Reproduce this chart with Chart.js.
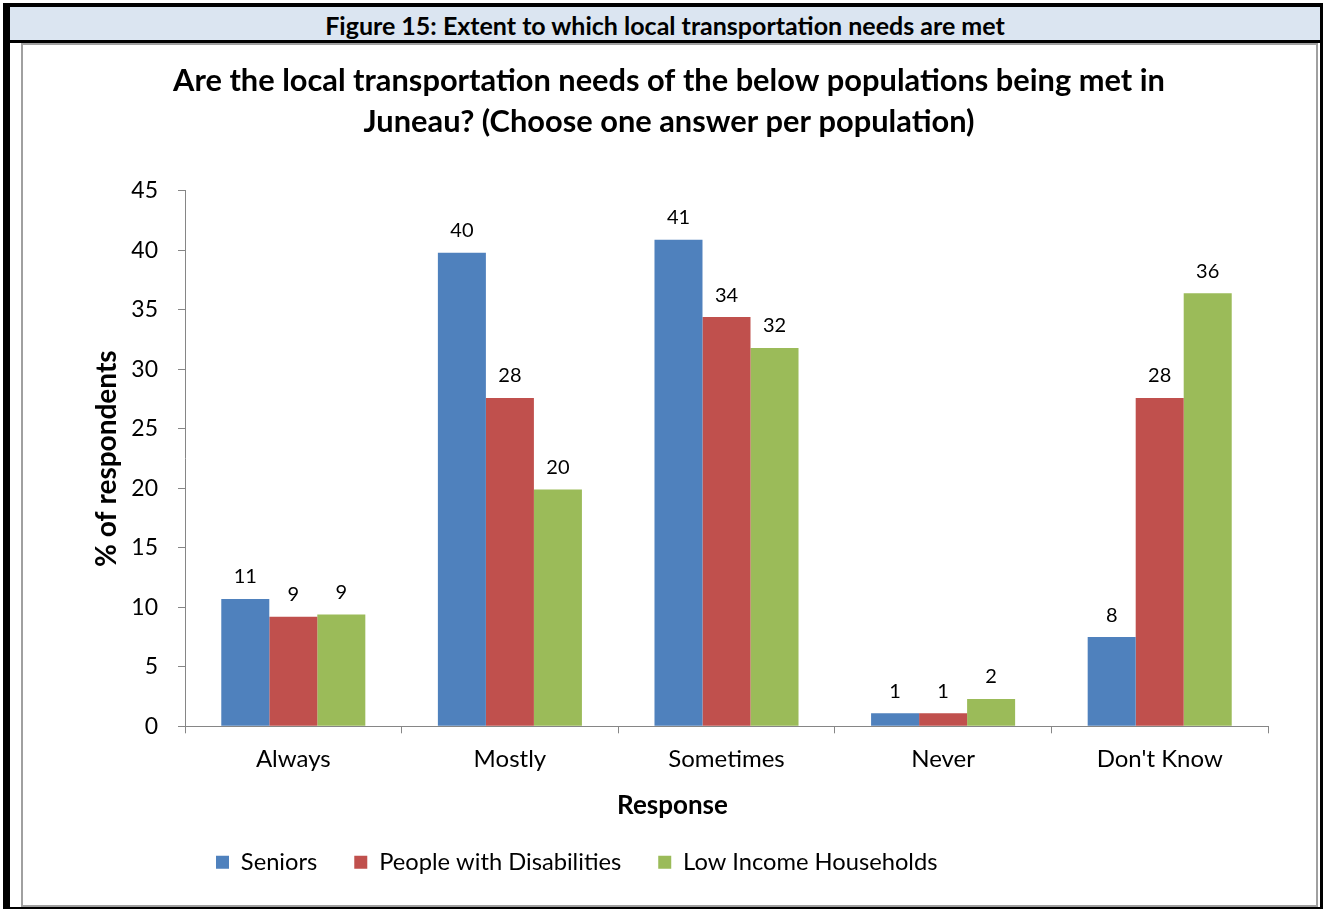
<!DOCTYPE html>
<html>
<head>
<meta charset="utf-8">
<script src="https://cdn.jsdelivr.net/npm/chart.js@4.4.1/dist/chart.umd.min.js"></script>
<style>
  body { margin: 0; background: #fff; font-family: Lato, sans-serif; }
  #frame {
    position: absolute; left: 3px; top: 3px; width: 1320px; height: 906px;
    box-sizing: border-box;
    border-left: 7px solid #000; border-top: 4px solid #000;
    border-right: 3px solid #000; border-bottom: 2px solid #000;
  }
  #header {
    position: absolute; left: 10px; top: 7px; width: 1310px; height: 33px;
    background: #dbe5f1; border-bottom: 3px solid #000;
    text-align: center; line-height: 36px;
    font-weight: bold; font-size: 25px; color: #000; overflow: hidden;
  }
  #box {
    position: absolute; left: 21px; top: 43px; width: 1297px; height: 864px;
    box-sizing: border-box; border: 2px solid #a0a0a0; background: #fff;
  }
  #box canvas { display: block; }
</style>
</head>
<body>
<div id="frame"></div>
<div id="header">Figure 15: Extent to which local transportation needs are met</div>
<div id="box"><canvas id="chart" width="1293" height="860"></canvas></div>
<script>
const categories = ["Always", "Mostly", "Sometimes", "Never", "Don't Know"];
const seniors = [10.7, 39.8, 40.9, 1.1, 7.5];
const disabilities = [9.2, 27.6, 34.4, 1.1, 27.6];
const lowIncome = [9.4, 19.9, 31.8, 2.3, 36.4];
const seriesNames = ["Seniors", "People with Disabilities", "Low Income Households"];
const seriesColors = ["#4f81bd", "#c0504d", "#9bbb59"];
const yTicks = [0, 5, 10, 15, 20, 25, 30, 35, 40, 45];

const axisGray = "#868686";

// value labels above each bar
const barLabels = {
  id: "barLabels",
  afterDatasetsDraw(chart) {
    const ctx = chart.ctx;
    ctx.save();
    ctx.font = "20px Lato";
    ctx.fillStyle = "#000";
    ctx.textAlign = "center";
    ctx.textBaseline = "middle";
    chart.data.datasets.forEach((ds, i) => {
      chart.getDatasetMeta(i).data.forEach((bar, j) => {
        ctx.fillText(Math.round(ds.data[j]), bar.x, bar.y - 22);
      });
    });
    ctx.restore();
  }
};

// legend sits left of centre in the original, as does the x title
const shiftBits = {
  id: "shiftBits",
  afterLayout(chart) {
    const lg = chart.legend;
    const w = lg.right - lg.left;
    lg.left = 156;
    lg.right = lg.left + w;
  },
  afterDraw(chart) {
    const ctx = chart.ctx;
    const x = chart.scales.x;
    ctx.save();
    ctx.font = "bold 26px Lato";
    ctx.fillStyle = "#000";
    ctx.textAlign = "center";
    ctx.textBaseline = "middle";
    ctx.fillText("Response", chart.width / 2 + 3, x.top + 79);
    ctx.restore();
  }
};

new Chart(document.getElementById("chart"), {
  type: "bar",
  data: {
    labels: categories,
    datasets: [seniors, disabilities, lowIncome].map((d, i) => ({
      label: seriesNames[i],
      data: d,
      backgroundColor: seriesColors[i],
      borderWidth: 0,
      categoryPercentage: 0.665,
      barPercentage: 1
    }))
  },
  options: {
    responsive: false,
    animation: false,
    layout: { padding: { left: 47, right: 48, top: 16, bottom: 21 } },
    plugins: {
      tooltip: { enabled: false },
      title: {
        display: true,
        text: ["Are the local transportation needs of the below populations being met in",
               "Juneau? (Choose one answer per population)"],
        color: "#000",
        font: { family: "Lato", size: 30.8, weight: "bold", lineHeight: 1.331 },
        padding: { top: 0, bottom: 48 }
      },
      legend: {
        position: "bottom",
        align: "start",
        labels: {
          color: "#000",
          font: { family: "Lato", size: 23.7 },
          boxWidth: 13,
          boxHeight: 13,
          padding: 37
        }
      }
    },
    scales: {
      x: {
        offset: true,
        afterFit: (s) => { s.height = 87; },
        border: { color: axisGray, width: 1 },
        grid: { offset: true, drawOnChartArea: false, drawTicks: true, tickLength: 7, color: axisGray },
        ticks: { color: "#000", font: { family: "Lato", size: 24 }, padding: 12 }
      },
      y: {
        min: 0,
        max: 45,
        afterBuildTicks: (s) => { s.ticks = yTicks.map((v) => ({ value: v })); },
        afterFit: (s) => { s.width = 115; },
        border: { color: axisGray, width: 1 },
        grid: { drawOnChartArea: false, drawTicks: true, tickLength: 7, color: axisGray },
        ticks: { color: "#000", font: { family: "Lato", size: 23 }, padding: 20 },
        title: {
          display: true, text: "% of respondents", color: "#000",
          font: { family: "Lato", size: 28, weight: "bold" },
          padding: { top: 20, bottom: 0 }
        }
      }
    }
  },
  plugins: [barLabels, shiftBits]
});
</script>
</body>
</html>
